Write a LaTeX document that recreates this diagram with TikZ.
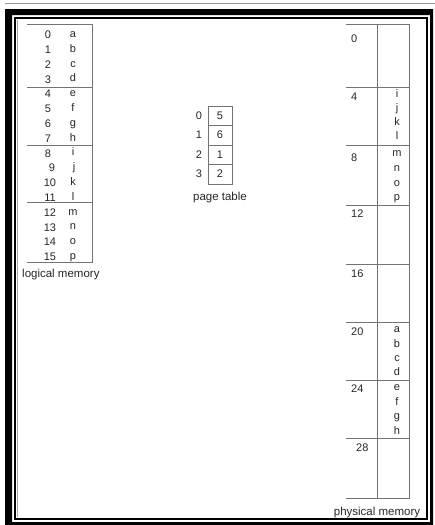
\documentclass[tikz,border=0pt]{standalone}
\usepackage{fontspec}
\setmainfont{Liberation Sans}
\begin{document}
\begin{tikzpicture}[x=1pt,y=-1pt,
  tline/.style={draw=black!55,line width=0.9pt},
  txt/.style={inner sep=0pt,text=black!85,font=\fontsize{11}{12}\selectfont},
  lbl/.style={inner sep=0pt,text=black!85,font=\fontsize{11.5}{13}\selectfont}]
\useasboundingbox (0,0) rectangle (435,525);
% window frame
\draw[black!40,line width=0.8pt] (5,3) -- (435,3);
\fill[black,even odd rule] (5,9) rectangle (433,525) (12,15) rectangle (430,522);
\draw[black,line width=1.2pt] (15,18) rectangle (427,519);
\draw[black!35,line width=0.6pt] (17,20) -- (17,517);
% logical memory
\draw[tline] (27,24) -- (92,24) -- (92,262) -- (27,262);
\foreach \y in {87,145,202} \draw[tline] (27,\y) -- (92,\y);
\foreach \i/\c in {0/a,1/b,2/c,3/d,4/e,5/f,6/g,7/h,8/i,10/k,11/l,12/m,13/n,14/o,15/p}{
  \pgfmathsetmacro{\yy}{35+\i*14.8}
  \pgfmathsetmacro{\xx}{\i<10?48:50}
  \node[txt] (ln\i) at (\xx,\yy) {\i};
  \node[txt] (lc\i) at (73,\yy) {\strut\c};
}
\node[txt] (ln9) at (52,{35+9*14.8}) {9};
\node[txt] (lc9) at (74,{35+9*14.8}) {\strut j};
\node[lbl,anchor=west] (lmlabel) at (22,275) {logical memory};
% page table
\draw[tline] (208,106) rectangle (232,184);
\foreach \y in {125,145,164} \draw[tline] (208,\y) -- (232,\y);
\foreach \i/\v/\y in {0/5/115.5,1/6/135,2/1/154.5,3/2/174}{
  \node[txt] (pi\i) at (199,\y) {\i};
  \node[txt] (pv\i) at (220,\y) {\v};
}
\node[lbl] (ptlabel) at (220,198) {page table};
% physical memory
\draw[tline] (346,24) -- (409,24) -- (409,498) -- (346,498);
\draw[tline] (377,24) -- (377,498);
\foreach \y in {87,145,205,264,322,380,438} \draw[tline] (346,\y) -- (409,\y);
\foreach \n/\y in {0/39,4/97,8/158,12/214,16/274,20/332,24/389} {
  \node[txt,anchor=west] (pf\n) at (351,\y) {\n};
}
\node[txt,anchor=west] (pf28) at (356,448) {28};
\foreach \c/\y in {i/95,j/109,k/123,l/137,m/154,n/169,o/184,p/198,a/330,b/345,c/359,d/373,e/388,f/403,g/417,h/432}{
  \node[txt] (pc\c) at (397,\y) {\strut\c};
}
\node[lbl] (pmlabel) at (377,513) {physical memory};
\end{tikzpicture}
\end{document}
